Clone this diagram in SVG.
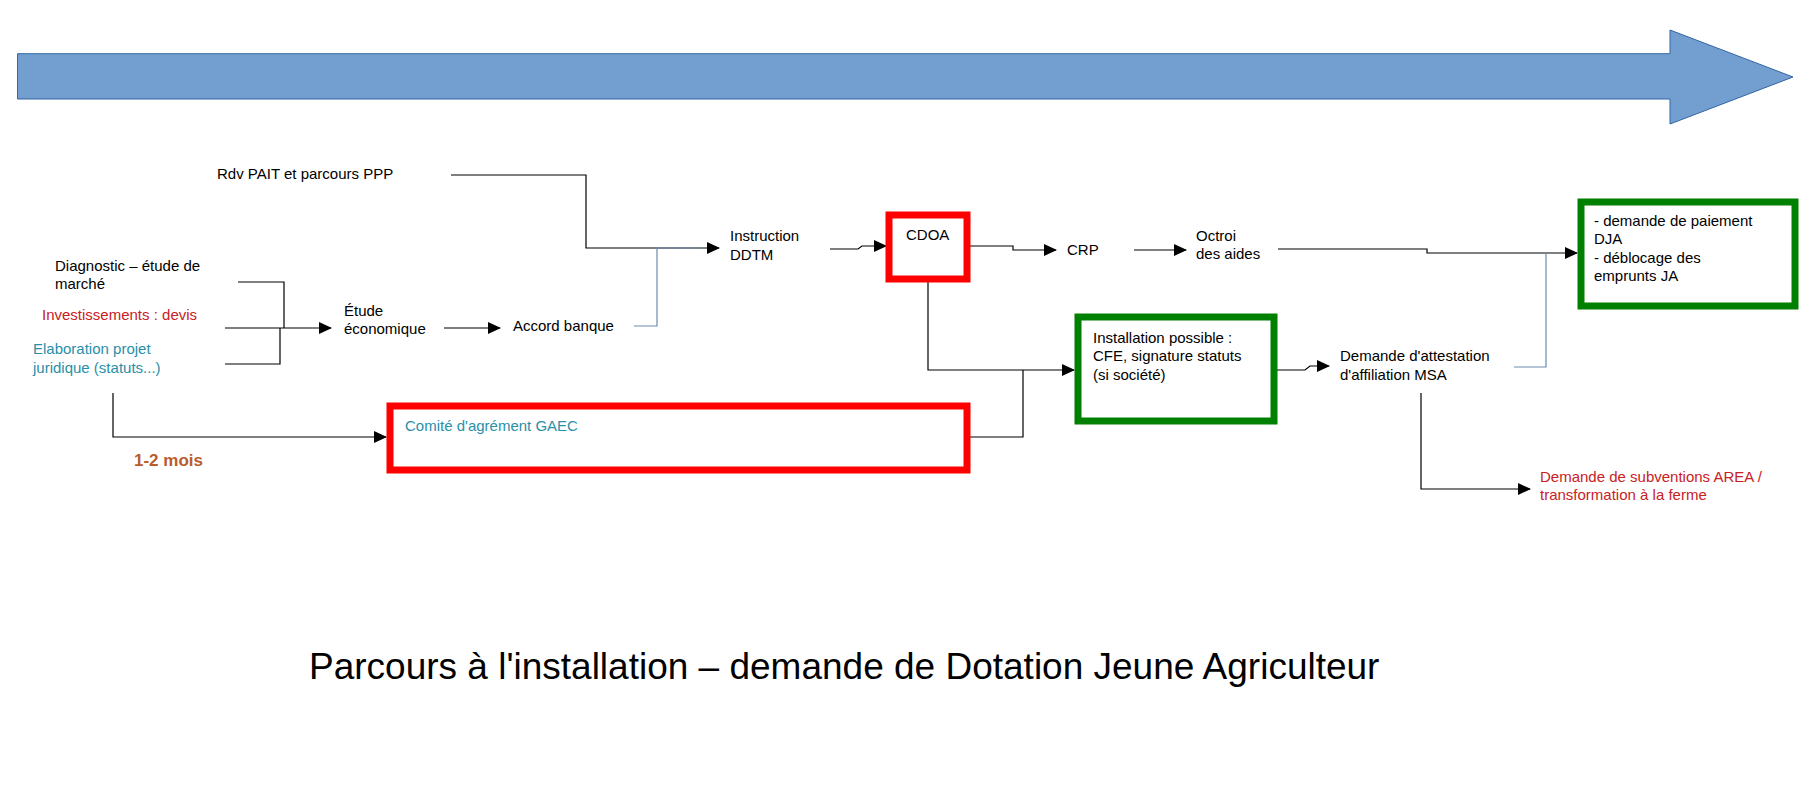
<svg xmlns="http://www.w3.org/2000/svg" width="1820" height="794" viewBox="0 0 1820 794">
<style>
text{font-family:"Liberation Sans",Arial,sans-serif;font-size:15px;fill:#000}
.red{fill:#c9211e}.teal{fill:#2a8fa8}
.c{fill:none;stroke:#000;stroke-width:1.2}
.b{fill:none;stroke:#6d8bb0;stroke-width:1.2}
.rb{fill:#fff;stroke:#ff0000;stroke-width:7}
.gb{fill:#fff;stroke:#008000;stroke-width:7}
</style>
<defs><marker id="a" markerWidth="13" markerHeight="12" refX="12" refY="6" orient="auto" markerUnits="userSpaceOnUse"><path d="M0,0L13,6L0,12z" fill="#000"/></marker></defs>
<rect width="1820" height="794" fill="#fff"/>
<path d="M17.5,53.7H1670V30L1793,77L1670,124V99H17.5z" fill="#729fcf" stroke="#3465a4" stroke-width="1"/>
<g id="connectors">
<path class="c" d="M451,175H586V248H719" marker-end="url(#a)"/>
<path class="b" d="M634,326H657V248H700"/>
<path class="c" d="M238,282H284V328M225,328H331" marker-end="url(#a)"/>
<path class="c" d="M225,364H280V328"/>
<path class="c" d="M444,328H500" marker-end="url(#a)"/>
<path class="c" d="M830,249H858L862,246H886" marker-end="url(#a)"/>
<path class="c" d="M968,246H1013V250H1056" marker-end="url(#a)"/>
<path class="c" d="M1134,250H1186" marker-end="url(#a)"/>
<path class="c" d="M1278,249H1427V253H1577" marker-end="url(#a)"/>
<path class="c" d="M928,280V370H1074" marker-end="url(#a)"/>
<path class="c" d="M968,437H1023V370"/>
<path class="c" d="M113,393V437H386" marker-end="url(#a)"/>
<path class="c" d="M1276,370H1305L1310,366H1329" marker-end="url(#a)"/>
<path class="b" d="M1514,367H1546V253"/>
<path class="c" d="M1421,393V489H1530" marker-end="url(#a)"/>
</g>
<g id="rdv"><text x="217" y="179">Rdv PAIT et parcours PPP</text></g>
<g id="instruction"><text x="730" y="241">Instruction</text><text x="730" y="260">DDTM</text></g>
<g id="diagnostic"><text x="55" y="271">Diagnostic – étude de</text><text x="55" y="289">marché</text></g>
<g id="invest"><text class="red" x="42" y="320">Investissements : devis</text></g>
<g id="elab"><text class="teal" x="33" y="354">Elaboration projet</text><text class="teal" x="33" y="373">juridique (statuts...)</text></g>
<g id="etude"><text x="344" y="316">Étude</text><text x="344" y="334">économique</text></g>
<g id="accord"><text x="513" y="331">Accord banque</text></g>
<g id="cdoa"><rect class="rb" x="889" y="215" width="78" height="64"/><text x="906" y="240">CDOA</text></g>
<g id="crp"><text x="1067" y="255">CRP</text></g>
<g id="octroi"><text x="1196" y="241">Octroi</text><text x="1196" y="259">des aides</text></g>
<g id="dja"><rect class="gb" x="1581" y="202" width="214" height="104"/><text x="1594" y="226">- demande de paiement</text><text x="1594" y="244">DJA</text><text x="1594" y="263">- déblocage des</text><text x="1594" y="281">emprunts JA</text></g>
<g id="installation"><rect class="gb" x="1078" y="317" width="196" height="104"/><text x="1093" y="343">Installation possible :</text><text x="1093" y="361">CFE, signature statuts</text><text x="1093" y="380">(si société)</text></g>
<g id="comite"><rect class="rb" x="390" y="406" width="577" height="64"/><text class="teal" x="405" y="431">Comité d'agrément GAEC</text></g>
<g id="mois"><text x="134" y="466" style="font-weight:bold;font-size:17px;fill:#b85c2c">1-2 mois</text></g>
<g id="msa"><text x="1340" y="361">Demande d'attestation</text><text x="1340" y="380">d'affiliation MSA</text></g>
<g id="area"><text class="red" x="1540" y="482">Demande de subventions AREA /</text><text class="red" x="1540" y="500">transformation à la ferme</text></g>
<text x="309" y="679" style="font-size:37px">Parcours à l'installation – demande de Dotation Jeune Agriculteur</text>
</svg>
